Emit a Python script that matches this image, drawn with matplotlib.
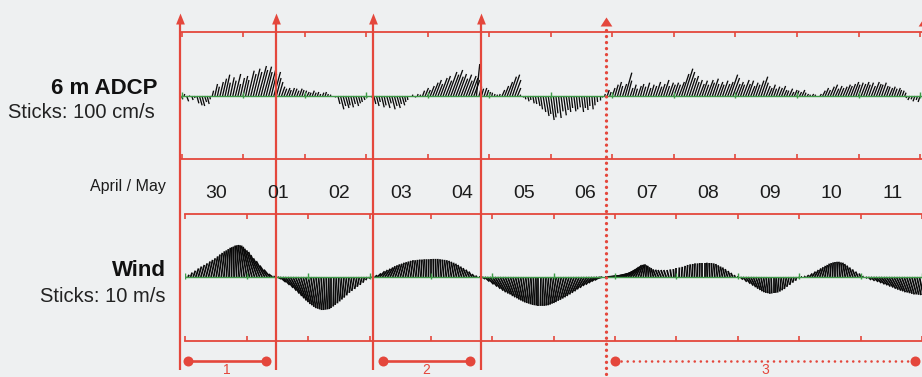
import numpy as np
import matplotlib
matplotlib.use("Agg")
import matplotlib.pyplot as plt
from matplotlib.collections import LineCollection

plt.rcParams['font.family'] = ['Liberation Sans', 'DejaVu Sans']

RED = '#e4473c'
GREEN = '#3f9a48'
BG = '#eef0f1'

# day labels along the time axis (30 April .. 11 May)
day_labels = ['30', '01', '02', '03', '04', '05', '06', '07', '08', '09', '10', '11']

# hourly 6 m ADCP current, north (v) and east (u) components, cm/s
adcp_v = [
    -5, 3, -8, 2, -6, -3, -11, -14, -15, -9, -12, -5, 8, 18, 14, 21, 26, 32, 20, 28, 23, 33, 18, 27,
    30, 24, 38, 33, 41, 36, 45, 39, 44, 36, 41, 33, 36, 27, 21, 14, 11, 12, 9, 12, 11, 8, 11, 9,
    8, 6, 5, 8, 5, 6, 3, 5, 6, 3, 2, 0, -2, -12, -20, -15, -18, -14, -17, -12, -15, -11, -9, -6,
    -3, 0, -2, -12, -15, -9, -17, -14, -18, -11, -20, -15, -18, -12, -14, -9, -6, 0, 2, -2, 3, 2, 8, 12,
    9, 15, 20, 24, 18, 27, 30, 23, 36, 32, 39, 29, 33, 26, 32, 23, 30, 27, 24, 48, 14, 11, 12, 9,
    6, 5, 3, 2, 3, 9, 15, 21, 29, 32, 24, 12, 2, -2, -5, -8, -6, -11, -12, -15, -20, -24, -30, -27,
    -36, -32, -26, -33, -23, -29, -21, -24, -18, -23, -20, -17, -24, -18, -21, -15, -20, -14, -9, -6, -2, 3, 9, 6,
    12, 17, 21, 15, 18, 35, 23, 12, 17, 11, 15, 18, 14, 20, 12, 17, 15, 21, 14, 18, 24, 15, 20, 17,
    20, 17, 21, 33, 41, 36, 27, 30, 21, 24, 18, 23, 17, 24, 20, 26, 18, 21, 17, 23, 18, 21, 32, 27,
    18, 21, 17, 24, 18, 23, 15, 20, 17, 23, 29, 20, 15, 12, 17, 11, 14, 12, 15, 9, 8, 11, 6, 9,
    8, 6, 9, 5, 3, 2, 3, 2, 0, 3, 8, 12, 9, 14, 17, 11, 15, 12, 14, 17, 15, 18, 21, 17,
    20, 18, 21, 17, 20, 15, 21, 18, 17, 20, 15, 14, 12, 14, 11, 12, 9, 8, 5, -3, -6, -5, -8, -6,
    -9,
]
adcp_u = [
    2, 1, 3, 0, 2, 1, 3, 4, 4, 3, 3, 1, 2, 4, 3, 5, 6, 7, 4, 6, 5, 8, 4, 6,
    7, 5, 9, 8, 10, 9, 12, 10, 12, 9, 11, 8, 10, 7, 6, 5, 4, 5, 3, 4, 4, 3, 4, 3,
    3, 3, 2, 3, 2, 2, 1, 2, 2, 1, 1, 0, 0, 3, 5, 4, 5, 3, 4, 3, 4, 3, 2, 2,
    1, 0, 1, 3, 4, 2, 4, 3, 5, 3, 5, 4, 5, 3, 4, 2, 1, 0, 1, 0, 1, 1, 3, 5,
    4, 6, 8, 9, 7, 10, 11, 9, 13, 12, 14, 11, 12, 10, 12, 9, 11, 10, 9, 5, 4, 3, 4, 3,
    2, 1, 1, 1, 1, 4, 6, 8, 10, 11, 9, 5, 1, 0, 1, 2, 1, 2, 2, 3, 3, 4, 5, 4,
    5, 4, 3, 4, 3, 4, 3, 3, 2, 3, 2, 2, 3, 2, 2, 1, 2, 1, 1, 0, 0, 1, 3, 2,
    4, 5, 6, 4, 6, 10, 6, 4, 5, 3, 5, 5, 4, 6, 4, 5, 5, 7, 5, 6, 8, 5, 7, 6,
    7, 6, 8, 11, 13, 12, 9, 10, 7, 8, 7, 8, 6, 9, 7, 9, 6, 8, 6, 8, 7, 8, 11, 10,
    7, 8, 6, 9, 7, 8, 6, 7, 6, 8, 10, 7, 6, 5, 6, 4, 5, 5, 6, 4, 3, 5, 3, 4,
    3, 3, 4, 2, 2, 1, 2, 1, 0, 2, 4, 5, 4, 6, 7, 5, 6, 5, 6, 7, 6, 7, 8, 6,
    7, 7, 8, 6, 7, 6, 8, 7, 6, 7, 6, 5, 5, 5, 4, 5, 3, 3, 2, -2, -3, -2, -3, -2,
    -3,
]

# hourly wind, north (v) and east (u) components, m/s
wind_v = [
    0.2, 0.7, 1.4, 2.0, 2.7, 3.3, 3.8, 4.3, 4.9, 5.4, 5.9, 6.5, 7.1, 7.6, 8.1, 8.4, 8.8, 9.2, 9.4, 9.6, 9.9, 10.0, 10.1, 10.0,
    9.9, 9.5, 8.9, 8.4, 7.9, 6.9, 5.9, 5.0, 3.6, 2.3, 0.9, 0.2, -0.6, -1.6, -2.5, -3.4, -4.3, -5.2, -6.0, -6.7, -7.4, -7.9, -8.5, -8.9,
    -9.4, -9.8, -10.0, -10.2, -10.4, -10.4, -10.3, -10.2, -10.1, -9.8, -9.3, -8.8, -8.3, -7.7, -7.1, -6.5, -5.8, -5.0, -4.4, -3.8, -3.1, -2.5, -1.8, -1.0,
    -0.5, -0.1, 0.5, 1.1, 1.8, 2.2, 2.6, 3.0, 3.4, 3.7, 4.0, 4.2, 4.5, 4.7, 4.9, 5.1, 5.3, 5.3, 5.4, 5.5, 5.5, 5.6, 5.6, 5.6,
    5.6, 5.7, 5.7, 5.7, 5.6, 5.5, 5.4, 5.3, 5.1, 4.8, 4.5, 4.2, 3.8, 3.3, 2.8, 2.3, 1.7, 0.9, 0.4, 0.0, -0.6, -1.4, -2.3, -3.0,
    -3.7, -4.3, -4.8, -5.2, -5.5, -6.0, -6.4, -6.7, -7.1, -7.4, -7.7, -8.0, -8.2, -8.4, -8.6, -8.8, -8.9, -9.0, -9.1, -9.1, -9.1, -9.1, -9.0, -8.9,
    -8.7, -8.4, -8.2, -7.9, -7.5, -7.2, -6.8, -6.4, -6.0, -5.5, -5.0, -4.5, -3.9, -3.4, -2.8, -2.4, -1.9, -1.4, -1.0, -0.4, 0.0, 0.3, 0.4, 0.7,
    1.0, 1.2, 1.6, 2.0, 2.4, 2.7, 3.1, 3.3, 3.7, 3.8, 3.9, 4.0, 3.7, 3.5, 3.1, 2.8, 2.4, 2.3, 2.2, 2.2, 2.2, 2.2, 2.4, 2.5,
    2.7, 3.0, 3.2, 3.5, 3.8, 4.0, 4.1, 4.3, 4.3, 4.4, 4.5, 4.5, 4.5, 4.4, 4.4, 4.3, 4.1, 3.7, 3.3, 3.0, 2.5, 1.9, 1.3, 0.6,
    0.0, -0.8, -1.5, -2.1, -2.7, -3.2, -3.7, -4.1, -4.5, -4.8, -5.0, -5.1, -5.3, -5.2, -5.1, -5.0, -4.9, -4.6, -4.2, -3.8, -3.1, -2.5, -1.8, -1.2,
    -0.4, 0.0, 0.3, 0.6, 1.1, 1.7, 2.2, 2.7, 3.1, 3.5, 3.8, 4.2, 4.4, 4.6, 4.7, 4.8, 4.8, 4.6, 4.5, 4.1, 3.6, 3.0, 2.4, 1.7,
    1.1, 0.3, -0.4, -0.9, -1.2, -1.5, -1.9, -2.3, -2.6, -3.0, -3.3, -3.7, -4.0, -4.3, -4.5, -4.8, -4.9, -5.1, -5.3, -5.5, -5.5, -5.6, -5.7, -5.8,
]
wind_u = [
    0.1, 0.3, 0.5, 0.7, 0.9, 1.0, 1.1, 1.2, 1.3, 1.3, 1.3, 1.3, 1.2, 1.1, 1.0, 0.8, 0.6, 0.4, 0.1, -0.2, -0.5, -0.8, -1.1, -1.4,
    -1.7, -2.0, -2.3, -2.5, -2.7, -2.8, -2.8, -2.7, -2.4, -1.9, -1.2, -0.5, 1.2, 1.8, 2.2, 2.5, 2.7, 2.8, 2.8, 2.7, 2.6, 2.4, 2.2, 2.0,
    1.8, 1.6, 1.4, 1.2, 1.0, 0.8, 0.6, 0.4, 0.2, 0.0, -0.2, -0.4, -0.5, -0.6, -0.7, -0.8, -0.8, -0.8, -0.8, -0.7, -0.7, -0.6, -0.5, -0.4,
    -0.2, -0.1, 0.8, 1.2, 1.5, 1.6, 1.7, 1.7, 1.6, 1.5, 1.4, 1.3, 1.2, 1.1, 1.0, 0.9, 0.8, 0.7, 0.6, 0.5, 0.4, 0.3, 0.2, 0.1,
    0.0, -0.1, -0.2, -0.3, -0.4, -0.5, -0.6, -0.7, -0.8, -0.9, -1.0, -1.1, -1.2, -1.2, -1.2, -1.1, -1.0, -0.8, -0.5, -0.2, 1.0, 1.5, 2.0, 2.3,
    2.5, 2.6, 2.6, 2.6, 2.5, 2.4, 2.3, 2.2, 2.0, 1.8, 1.6, 1.4, 1.2, 1.0, 0.8, 0.6, 0.4, 0.2, 0.0, -0.2, -0.4, -0.6, -0.8, -1.0,
    -1.2, -1.4, -1.6, -1.8, -1.9, -2.0, -2.1, -2.2, -2.3, -2.3, -2.3, -2.3, -2.3, -2.2, -2.1, -2.0, -1.9, -1.8, -1.6, -1.4, 2.0, 3.0, 3.5, 3.8,
    3.9, 3.9, 3.8, 3.6, 3.3, 3.0, 2.6, 2.2, 1.8, 1.4, 1.0, 0.6, 0.2, -0.2, -0.5, -0.8, -1.0, -1.0, -1.0, -0.9, -0.8, -0.6, -0.4, -0.2,
    0.0, 0.1, 0.2, 0.3, 0.3, 0.3, 0.3, 0.2, 0.2, 0.1, 0.0, 0.0, -0.1, -0.2, -0.3, -0.4, -0.5, -0.6, -0.7, -0.8, -0.8, -0.7, -0.6, -0.4,
    -0.2, 0.8, 1.2, 1.5, 1.6, 1.6, 1.5, 1.4, 1.2, 1.0, 0.8, 0.6, 0.4, 0.2, 0.0, -0.2, -0.4, -0.5, -0.6, -0.7, -0.7, -0.6, -0.5, -0.4,
    -0.2, -0.1, 0.3, 0.6, 0.9, 1.1, 1.2, 1.2, 1.1, 1.0, 0.8, 0.6, 0.4, 0.2, 0.0, -0.2, -0.4, -0.6, -0.8, -1.0, -1.1, -1.1, -1.0, -0.8,
    -0.5, -0.2, 0.5, 0.9, 1.2, 1.5, 1.7, 1.9, 2.0, 2.1, 2.2, 2.2, 2.2, 2.2, 2.1, 2.0, 1.9, 1.8, 1.7, 1.6, 1.5, 1.4, 1.3, 1.2,
]

# wind reversal events (days from 30 April 00:00) and analysed periods
event_solid = [-0.09, 1.47, 3.05, 4.80]
event_dotted = [6.84, 12.0]
period_start = [0.04, 3.21, 6.98]
period_end = [1.31, 4.63, 11.86]
period_names = ['1', '2', '3']
period_dotted = [False, False, True]

W, H = 922, 377


def box(left, top, right, bottom):
    return [left / W, 1 - bottom / H, (right - left) / W, (bottom - top) / H]


def frame(ax, unit):
    ax.set_facecolor('none')
    for side in ('left', 'right'):
        ax.spines[side].set_visible(False)
    for side in ('top', 'bottom'):
        ax.spines[side].set_color(RED)
        ax.spines[side].set_linewidth(1.3)
    ax.set_xticks(np.arange(0, 13))
    ax.set_yticks([])
    ax.tick_params(axis='x', direction='in', top=True, bottom=True, length=3.5,
                   width=1.2, color=RED, labelbottom=False, labeltop=False)
    ax.axhline(0, color=GREEN, lw=1.0, zorder=3)
    ax.vlines(np.arange(0, 13), -2 * unit, 4 * unit, color=GREEN, lw=1.0, zorder=3)


def add_sticks(ax, t, u, v, lw):
    # x offset in days so that sticks keep their true direction on screen
    bb = ax.get_window_extent()
    x0, x1 = ax.get_xlim()
    y0, y1 = ax.get_ylim()
    k = (bb.height / (y1 - y0)) / (bb.width / (x1 - x0))
    segs = [[(ti, 0.0), (ti + ui * k, vi)] for ti, ui, vi in zip(t, u, v)]
    ax.add_collection(LineCollection(segs, colors='#0a0a0a', linewidths=lw, zorder=2))


fig = plt.figure(figsize=(W / 100, H / 100), dpi=100, facecolor=BG)

# 6 m ADCP panel, 1 px = 1.5 cm/s
cm_px = 1.5
ax_cur = fig.add_axes(box(180, 32, 922, 159))
ax_cur.set_xlim((180 - 181.5) / 61.55, (922 - 181.5) / 61.55)
ax_cur.set_ylim(-(159 - 96) * cm_px, (96 - 32) * cm_px)
frame(ax_cur, cm_px)
add_sticks(ax_cur, np.arange(len(adcp_v)) / 24.0, adcp_u, adcp_v, 0.95)

# wind panel, 1 px = 0.315 m/s
ms_px = 1 / 3.175
ax_wind = fig.add_axes(box(185, 214, 922, 341))
ax_wind.set_xlim((185 - 185.5) / 61.5, (922 - 185.5) / 61.5)
ax_wind.set_ylim(-(341 - 277) * ms_px, (277 - 214) * ms_px)
frame(ax_wind, ms_px)
add_sticks(ax_wind, np.arange(len(wind_v)) / 24.0, wind_u, wind_v, 1.3)

# overlay for event lines, periods and day labels
ax_o = fig.add_axes([0, 0, 1, 1], zorder=5)
ax_o.set_xlim(-185.5 / 61.5, (922 - 185.5) / 61.5)
ax_o.set_ylim(H, 0)
ax_o.axis('off')
ax_o.patch.set_alpha(0)

arrow_narrow = [(0, 1), (-0.4, 0), (0.4, 0)]
arrow_wide = [(0, 1), (-0.65, 0), (0.65, 0)]

ax_o.vlines(event_solid, 22, 370, colors=RED, lw=1.6)
ax_o.plot(event_solid, [24] * len(event_solid), ls='none', marker=arrow_narrow,
          ms=15.8, color=RED, mec='none')
dots = ax_o.vlines(event_dotted, 30, 385, colors=RED, lw=2.4, linestyles=[(0, (0.01, 1.8))])
dots.set_capstyle('round')
ax_o.plot(event_dotted, [26] * len(event_dotted), ls='none', marker=arrow_wide,
          ms=13, color=RED, mec='none', clip_on=False)

for s, e, name, dotted in zip(period_start, period_end, period_names, period_dotted):
    if dotted:
        ax_o.plot([s, e], [361, 361], color=RED, lw=1.9, ls=(0, (0.01, 2.3)),
                  dash_capstyle='round')
    else:
        ax_o.plot([s, e], [361, 361], color=RED, lw=1.9)
    ax_o.plot([s, e], [361, 361], ls='none', marker='o', ms=7.2, color=RED, mec='none')
    ax_o.text((s + e) / 2, 376.5, name, ha='center', va='bottom', fontsize=10, color=RED)

for i, lab in enumerate(day_labels):
    ax_o.text(i + 0.5, 193, lab, ha='center', va='center', fontsize=14, color='#1c1c1c')

fig.text(166 / W, 1 - 187 / H, 'April / May', ha='right', va='center', fontsize=11.5, color='#1c1c1c')
fig.text(157 / W, 1 - 88 / H, '6 m ADCP', ha='right', va='center', fontsize=16,
         fontweight='bold', color='#111111')
fig.text(155 / W, 1 - 112 / H, 'Sticks: 100 cm/s', ha='right', va='center', fontsize=14.5,
         color='#222222')
fig.text(166 / W, 1 - 270 / H, 'Wind', ha='right', va='center', fontsize=16,
         fontweight='bold', color='#111111')
fig.text(165 / W, 1 - 296 / H, 'Sticks: 10 m/s', ha='right', va='center', fontsize=14.5,
         color='#222222')

fig.savefig('out.png', dpi=100, facecolor=BG)
